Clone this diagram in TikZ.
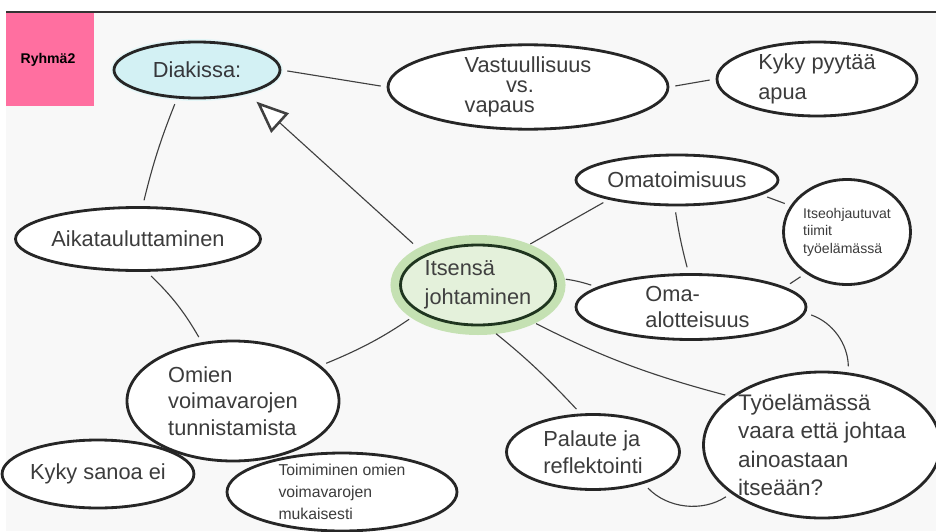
\documentclass[tikz,border=0pt]{standalone}
\usepackage{fontspec}
\setmainfont{Liberation Sans}
\usepackage[]{tikz}
\usepackage[]{xcolor}
\usetikzlibrary{arrows.meta}
\usetikzlibrary{shapes.geometric}
\definecolor{pinkbox}{HTML}{FF6FA0}
\definecolor{diakfill}{HTML}{D3F1F4}
\definecolor{itsfill}{HTML}{E4F1DB}
\definecolor{glowgreen}{HTML}{B9DCA2}
\definecolor{itsborder}{HTML}{1F351F}
\definecolor{txtgray}{HTML}{3C3C3C}
\definecolor{bggray}{HTML}{F8F8F8}
\tikzset{bubble/.style = {ellipse, draw=black!85, line width=2pt, fill=white, text=txtgray, inner sep=0, align=left, font=\fontsize{15.5}{19}\selectfont}}
\tikzset{smallbubble/.style = {bubble, font=\fontsize{10}{12.5}\selectfont}}
\tikzset{link/.style = {draw=black!75, line width=0.8pt, shorten <=1.5mm, shorten >=1.5mm}}
\begin{document}
\begin{tikzpicture}[x=0.25mm, y=-0.25mm]
        \useasboundingbox (0,0) rectangle (936,531);
        \fill [white] (0,0) rectangle (936,531);
        \fill [bggray] (6,12) rectangle (936,531);
        \draw [black!80, line width=1.2pt] (6,12) -- (936,12);
        \fill [pinkbox] (6,13) rectangle (94,106);
        \node (grp) at (48,60) {\fontsize{10}{12}\selectfont\bfseries Ryhmä2};
        % ellipses
        \node [bubble, fill=diakfill, text=black!70!cyan!40!black, minimum width=41.5mm, minimum height=14mm, preaction={draw=diakfill!60, line width=1.5mm}] (diak) at (197,70) {Diakissa:};
        \node [bubble, minimum width=70mm, minimum height=17.5mm, font=\fontsize{15.5}{14}\selectfont] (vast) at (528,87) {Vastuullisuus\\\hspace*{1.9em}vs.\\vapaus};
        \node [bubble, minimum width=50mm, minimum height=18.5mm, font=\fontsize{15.5}{21}\selectfont] (kyky) at (817,79) {Kyky pyytää\\apua};
        \node [bubble, minimum width=50.5mm, minimum height=12.5mm] (omat) at (677,180) {Omatoimisuus};
        \node [smallbubble, minimum width=31.75mm, minimum height=26.25mm] (itse) at (847,232) {Itseohjautuvat\\tiimit\\työelämässä};
        \node [bubble, minimum width=57.5mm, minimum height=16.25mm] (omal) at (691,307) {\hspace*{0.6em}Oma-\\\hspace*{0.6em}alotteisuus};
        \node [bubble, fill=itsfill, draw=itsborder, text=black!75, minimum width=38.75mm, minimum height=20mm, font=\fontsize{15.5}{21}\selectfont, preaction={draw=glowgreen, line width=5mm, opacity=0.8}] (its) at (478,285) {Itsensä\\johtaminen};
        \node [bubble, minimum width=55mm, minimum height=15.75mm] (aika) at (138,239) {Aikatauluttaminen};
        \node [bubble, minimum width=53mm, minimum height=30mm] (omien) at (233,401) {Omien\\voimavarojen\\tunnistamista};
        \node [bubble, minimum width=43.25mm, minimum height=17mm] (ksan) at (98,474) {Kyky sanoa ei};
        \node [smallbubble, minimum width=57.5mm, minimum height=19mm, font=\fontsize{11.2}{15.5}\selectfont] (toim) at (342,492) {Toimiminen omien\\voimavarojen\\mukaisesti};
        \node [bubble, minimum width=43.25mm, minimum height=18.75mm] (pal) at (593,452) {Palaute ja\\reflektointi};
        \node [bubble, minimum width=58mm, minimum height=36.5mm, font=\fontsize{16}{20}\selectfont] (tyo) at (822,445) {Työelämässä\\vaara että johtaa\\ainoastaan\\itseään?};
        % connectors
        \draw [link] (diak.-125) to[bend right=4] (aika.82);
        \draw [link] (diak.east) -- (vast.west);
        \draw [link] (vast.east) -- (kyky.west);
        \draw [link, shorten <=4mm, shorten >=3mm, -{Triangle[fill=white, length=8mm, width=6.5mm, line width=1.8pt]}] (its.150) -- (diak.-25);
        \draw [link] (aika.-75) to[bend left=8] (omien.118);
        \draw [link, shorten <=3mm] (its.205) to[bend left=6] (omien.22);
        \draw [link, shorten <=3mm] (its.40) -- (omat.196);
        \draw [link, shorten <=2.5mm] (its.5) to[bend left=6] (omal.168);
        \draw [link] (omat.-95) to[bend right=3] (omal.94);
        \draw [link] (omat.-10) -- (itse.155);
        \draw [link] (itse.-135) -- (omal.12);
        \draw [link] (omal.-3) to[bend left=35] (tyo.70);
        \draw [link, shorten <=3mm] (its.-35) to[bend right=6] (tyo.152);
        \draw [link, shorten <=3mm] (its.-78) to[bend left=4] (pal.108);
        \draw [link] (pal.-32) to[bend right=40] (tyo.-152);
    \end{tikzpicture}
\end{document}
